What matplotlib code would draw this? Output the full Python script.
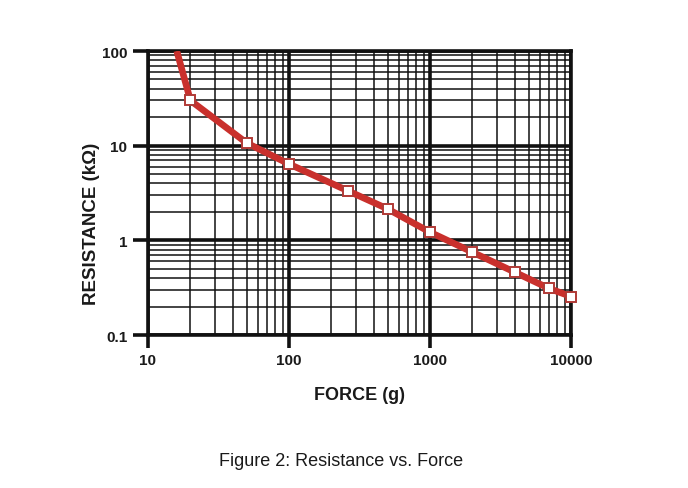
import matplotlib
matplotlib.use("Agg")
import matplotlib.pyplot as plt
from matplotlib.ticker import LogLocator, NullFormatter

plt.rcParams['font.family'] = ['Liberation Sans', 'DejaVu Sans']

# Data
curve_force = [16, 20]
curve_res = [100, 30]
force = [20, 50, 100, 260, 500, 1000, 2000, 4000, 7000, 10000]
resistance = [30, 10.7, 6.4, 3.35, 2.15, 1.22, 0.75, 0.46, 0.31, 0.255]

x_ticks = [10, 100, 1000, 10000]
x_ticklabels = ["10", "100", "1000", "10000"]
y_ticks = [0.1, 1, 10, 100]
y_ticklabels = ["0.1", "1", "10", "100"]

red = "#c9302c"
ink = "#1a1a1a"

fig = plt.figure(figsize=(6.88, 4.89), dpi=100)
ax = fig.add_axes([148/688, 1-336/489, (571-148)/688, (336-52)/489])
ax.set_xscale('log')
ax.set_yscale('log')
ax.set_xlim(10, 10000)
ax.set_ylim(0.1, 100)

# grid
ax.xaxis.set_minor_locator(LogLocator(base=10, subs=range(2, 10)))
ax.yaxis.set_minor_locator(LogLocator(base=10, subs=range(2, 10)))
ax.xaxis.set_minor_formatter(NullFormatter())
ax.yaxis.set_minor_formatter(NullFormatter())
ax.grid(which='minor', color='#111111', linewidth=1.1)
ax.grid(which='major', color='#111111', linewidth=2.6)
ax.set_axisbelow(True)

ax.set_xticks(x_ticks)
ax.set_xticklabels(x_ticklabels)
ax.set_yticks(y_ticks)
ax.set_yticklabels(y_ticklabels)
ax.tick_params(which='minor', length=0)
ax.tick_params(axis='x', which='major', length=9, width=2.6, color='#111111', pad=4,
               labelsize=11)
ax.tick_params(axis='y', which='major', length=11, width=2.6, color='#111111', pad=4,
               labelsize=11)
for lab in ax.get_xticklabels() + ax.get_yticklabels():
    lab.set_fontweight('bold')
    lab.set_color(ink)

for s in ax.spines.values():
    s.set_linewidth(2.6)
    s.set_color('#111111')

allx = curve_force + force[1:]
ally = curve_res + resistance[1:]
ax.plot(allx, ally, color=red, linewidth=4.8, solid_capstyle='butt', zorder=3,
        clip_on=True)
ax.plot(force, resistance, linestyle='none', marker='s', markersize=7.2,
        markerfacecolor='white', markeredgecolor='#b03a36', markeredgewidth=1.4,
        zorder=4, clip_on=False)

ax.set_xlabel("FORCE (g)", fontsize=13, fontweight='bold', color=ink, labelpad=14)
fig.text(92/688, 1-224/489, "RESISTANCE (kΩ)", rotation=90, ha='center', va='center',
         fontsize=13.5, fontweight='bold', color=ink)

fig.text(341/688, 1-462/489, "Figure 2: Resistance vs. Force", ha='center', va='center',
         fontsize=13, color=ink)

fig.savefig("out.png", dpi=100)
